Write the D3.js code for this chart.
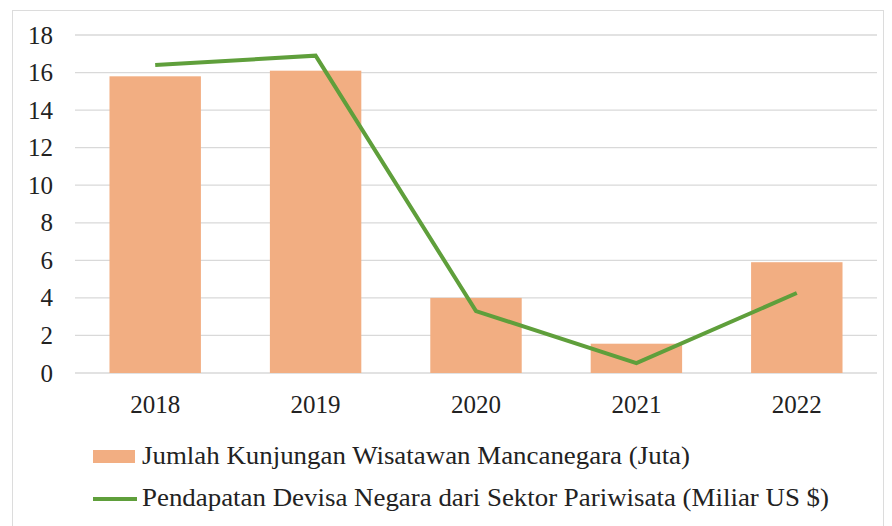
<!DOCTYPE html>
<html>
<head>
<meta charset="utf-8">
<script src="https://cdn.jsdelivr.net/npm/d3@7"></script>
</head>
<body style="margin:0">
<svg id="chart" width="892" height="526"></svg>
<script>
var years = ["2018", "2019", "2020", "2021", "2022"];
var kunjungan = [15.8, 16.1, 4.0, 1.56, 5.9];
var devisa = [16.4, 16.9, 3.3, 0.53, 4.26];
var yTicks = [0, 2, 4, 6, 8, 10, 12, 14, 16, 18];
var seriesNames = ["Jumlah Kunjungan Wisatawan Mancanegara (Juta)",
                   "Pendapatan Devisa Negara dari Sektor Pariwisata (Miliar US $)"];

var FONT = "Times New Roman";
var barColor = "#f2ae82", lineColor = "#5f9f3b";

var svg = d3.select("#chart"),
    margin = {top: 35, right: 15, bottom: 153, left: 75},
    width = +svg.attr("width") - margin.left - margin.right,
    height = +svg.attr("height") - margin.top - margin.bottom;

// outer frame
svg.append("rect")
    .attr("x", 12.5).attr("y", 10.5)
    .attr("width", 871).attr("height", 530)
    .attr("fill", "none")
    .attr("stroke", "#dcdcdc");

var x = d3.scaleBand().domain(years).range([0, width]).paddingInner(0.43).paddingOuter(0.215),
    y = d3.scaleLinear().domain([0, 18]).range([height, 0]);

var g = svg.append("g")
    .attr("transform", "translate(" + margin.left + "," + margin.top + ")");

g.append("g")
    .selectAll("line")
    .data(yTicks)
    .enter().append("line")
    .attr("x1", 0).attr("x2", width)
    .attr("y1", function(d) { return y(d); })
    .attr("y2", function(d) { return y(d); })
    .attr("stroke", "#d9d9d9")
    .attr("stroke-width", 1.3);

g.append("g")
    .call(d3.axisLeft(y).tickValues(yTicks).tickSize(0).tickPadding(22))
    .call(function(a) { a.select(".domain").remove(); });

g.append("g")
    .attr("transform", "translate(0," + height + ")")
    .call(d3.axisBottom(x).tickSize(0).tickPadding(22))
    .call(function(a) { a.select(".domain").remove(); });

g.selectAll(".tick text")
    .attr("fill", "#222")
    .style("font-family", FONT)
    .style("font-size", "25px");

g.selectAll(".bar")
    .data(kunjungan)
    .enter().append("rect")
    .attr("class", "bar")
    .attr("x", function(d, i) { return x(years[i]); })
    .attr("y", function(d) { return y(d); })
    .attr("width", x.bandwidth())
    .attr("height", function(d) { return height - y(d); })
    .attr("fill", barColor);

var line = d3.line()
    .x(function(d, i) { return x(years[i]) + x.bandwidth() / 2; })
    .y(function(d) { return y(d); });

g.append("path")
    .datum(devisa)
    .attr("d", line)
    .attr("fill", "none")
    .attr("stroke", lineColor)
    .attr("stroke-width", 4);

// legend
var lg = svg.append("g").attr("transform", "translate(93,0)");
lg.append("rect")
    .attr("x", 0).attr("y", 450)
    .attr("width", 42).attr("height", 13)
    .attr("fill", barColor);
lg.append("text")
    .attr("x", 49).attr("y", 464)
    .style("font-family", FONT)
    .style("font-size", "25px")
    .attr("fill", "#222")
    .attr("textLength", 548)
    .attr("lengthAdjust", "spacingAndGlyphs")
    .text(seriesNames[0]);
lg.append("line")
    .attr("x1", 0).attr("x2", 44)
    .attr("y1", 499).attr("y2", 499)
    .attr("stroke", lineColor)
    .attr("stroke-width", 4);
lg.append("text")
    .attr("x", 49).attr("y", 506)
    .style("font-family", FONT)
    .style("font-size", "25px")
    .attr("fill", "#222")
    .attr("textLength", 687)
    .attr("lengthAdjust", "spacingAndGlyphs")
    .text(seriesNames[1]);
</script>
</body>
</html>
